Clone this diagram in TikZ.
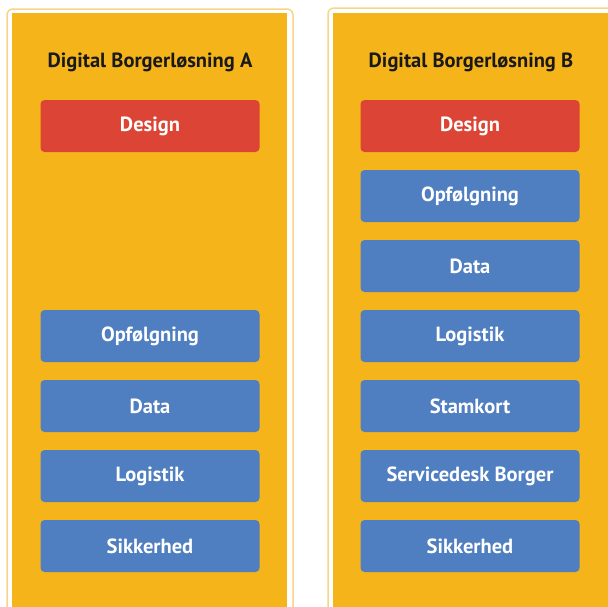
\documentclass[tikz,border=0pt]{standalone}
\usepackage{fontspec}
\setmainfont{PT Sans}
\definecolor{panelY}{HTML}{F4B41A}
\definecolor{panelB}{HTML}{F9D38A}
\definecolor{boxR}{HTML}{DC4535}
\definecolor{boxB}{HTML}{4F7EC1}
\tikzset{
  px/.style={x=1pt,y=-1pt},
  item/.style={rounded corners=4pt, minimum width=219pt, minimum height=52pt, inner sep=0pt,
    text=white, font=\fontsize{20.5}{24}\selectfont\bfseries, draw=none},
  redbox/.style={item, fill=boxR},
  bluebox/.style={item, fill=boxB},
  ttl/.style={font=\fontsize{20.5}{24}\selectfont\bfseries, text=black!90, inner sep=0pt},
}
\begin{document}
\begin{tikzpicture}[px]
\useasboundingbox (0,0) rectangle (608,606);
\clip (0,0) rectangle (608,606);
% panels
\draw[panelB, line width=1.5pt, rounded corners=6pt] (7,9) rectangle (293,640);
\fill[panelY] (12,13) rectangle (287,640);
\draw[panelB, line width=1.5pt, rounded corners=6pt] (328,8) rectangle (640,640);
\fill[panelY] (333,13) rectangle (640,640);
% titles
\node[ttl] (tA) at (150,62) {Digital Borgerløsning A};
\node[ttl] (tB) at (471,62) {Digital Borgerløsning B};
% left column
\node[redbox]  (a1) at (150,126) {Design};
\node[bluebox] (a2) at (150,336) {Opfølgning};
\node[bluebox] (a3) at (150,406) {Data};
\node[bluebox] (a4) at (150,476) {Logistik};
\node[bluebox] (a5) at (150,546) {Sikkerhed};
% right column
\node[redbox]  (b1) at (470,126) {Design};
\node[bluebox] (b2) at (470,196) {Opfølgning};
\node[bluebox] (b3) at (470,266) {Data};
\node[bluebox] (b4) at (470,336) {Logistik};
\node[bluebox] (b5) at (470,406) {Stamkort};
\node[bluebox] (b6) at (470,476) {Servicedesk Borger};
\node[bluebox] (b7) at (470,546) {Sikkerhed};
\end{tikzpicture}
\end{document}
